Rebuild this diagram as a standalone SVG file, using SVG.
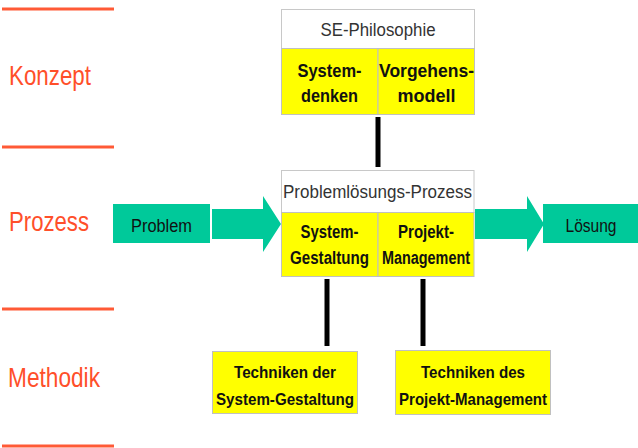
<svg xmlns="http://www.w3.org/2000/svg" width="638" height="448" viewBox="0 0 638 448">
<style>
.lane{stroke:#ff5a36;stroke-width:3;fill:none}
.lbl{font-family:"Liberation Sans",Arial,sans-serif;font-size:28px;fill:#ff4f2a}
.hdr{fill:#ffffff;stroke:#c8c8c8;stroke-width:1}
.yel{fill:#ffff00;stroke:#c0c0c0;stroke-width:1}
.teal{fill:#00c99a}
.ht{font-family:"Liberation Sans",Arial,sans-serif;font-size:18px;fill:#333333;text-anchor:middle}
.bt{font-family:"Liberation Sans",Arial,sans-serif;font-weight:bold;fill:#111111;text-anchor:middle}
.t19{font-size:19px}
.t18{font-size:18px}
.t17{font-size:17px}
.tt{font-family:"Liberation Sans",Arial,sans-serif;font-size:18px;fill:#111111;text-anchor:middle}
.con{stroke:#000000;stroke-width:5;fill:none}
</style>
<rect width="638" height="448" fill="#ffffff"/>
<g id="lanes">
<line class="lane" x1="2" y1="9" x2="114" y2="9"/>
<line class="lane" x1="2" y1="147" x2="114" y2="147"/>
<line class="lane" x1="2" y1="309" x2="114" y2="309"/>
<line class="lane" x1="2" y1="446" x2="114" y2="446"/>
<text class="lbl" x="9" y="85" textLength="82" lengthAdjust="spacingAndGlyphs">Konzept</text>
<text class="lbl" x="9" y="231" textLength="80" lengthAdjust="spacingAndGlyphs">Prozess</text>
<text class="lbl" x="8" y="387" textLength="92" lengthAdjust="spacingAndGlyphs">Methodik</text>
</g>
<g id="connectors">
<line class="con" x1="378" y1="117" x2="378" y2="167"/>
<line class="con" x1="327" y1="279" x2="327" y2="346"/>
<line class="con" x1="423" y1="279" x2="423" y2="346"/>
<polygon class="teal" points="212,209 263,209 263,196 281,224 263,252 263,239 212,239"/>
<polygon class="teal" points="475,209 527,209 527,196 544,224 527,252 527,239 475,239"/>
</g>
<g id="se-philosophie">
<rect class="hdr" x="281.5" y="9.5" width="193" height="39"/>
<rect class="yel" x="281.5" y="48.5" width="96.5" height="66"/>
<rect class="yel" x="378" y="48.5" width="96.5" height="66"/>
<text class="ht" x="378" y="36" textLength="115" lengthAdjust="spacingAndGlyphs">SE-Philosophie</text>
<text class="bt t19" x="329.5" y="77" textLength="64" lengthAdjust="spacingAndGlyphs">System-</text>
<text class="bt t19" x="329.5" y="102" textLength="57" lengthAdjust="spacingAndGlyphs">denken</text>
<text class="bt t19" x="426.5" y="77" textLength="95" lengthAdjust="spacingAndGlyphs">Vorgehens-</text>
<text class="bt t19" x="426.5" y="102" textLength="58" lengthAdjust="spacingAndGlyphs">modell</text>
</g>
<g id="problemloesungs-prozess">
<rect class="hdr" x="281.5" y="170.5" width="192.5" height="42"/>
<rect class="yel" x="281.5" y="212.5" width="96.5" height="64"/>
<rect class="yel" x="378" y="212.5" width="96" height="64"/>
<text class="ht" x="377.5" y="198" textLength="189" lengthAdjust="spacingAndGlyphs">Problemlösungs-Prozess</text>
<text class="bt t18" x="329.5" y="238" textLength="58" lengthAdjust="spacingAndGlyphs">System-</text>
<text class="bt t18" x="329.5" y="264" textLength="79" lengthAdjust="spacingAndGlyphs">Gestaltung</text>
<text class="bt t18" x="426" y="238" textLength="56" lengthAdjust="spacingAndGlyphs">Projekt-</text>
<text class="bt t18" x="426" y="264" textLength="88" lengthAdjust="spacingAndGlyphs">Management</text>
</g>
<g id="problem">
<rect class="teal" x="113" y="204" width="97" height="39"/>
<text class="tt" x="161.5" y="232" textLength="61" lengthAdjust="spacingAndGlyphs">Problem</text>
</g>
<g id="loesung">
<rect class="teal" x="543" y="204" width="96" height="39"/>
<text class="tt" x="591" y="232" textLength="51" lengthAdjust="spacingAndGlyphs">Lösung</text>
</g>
<g id="techniken-systemgestaltung">
<rect class="yel" x="212.5" y="351.5" width="145" height="62"/>
<text class="bt t17" x="285" y="378" textLength="102" lengthAdjust="spacingAndGlyphs">Techniken der</text>
<text class="bt t17" x="285" y="405" textLength="138" lengthAdjust="spacingAndGlyphs">System-Gestaltung</text>
</g>
<g id="techniken-projektmanagement">
<rect class="yel" x="395.5" y="350.5" width="155" height="64"/>
<text class="bt t17" x="473" y="378" textLength="104" lengthAdjust="spacingAndGlyphs">Techniken des</text>
<text class="bt t17" x="473" y="405" textLength="148" lengthAdjust="spacingAndGlyphs">Projekt-Management</text>
</g>
</svg>
